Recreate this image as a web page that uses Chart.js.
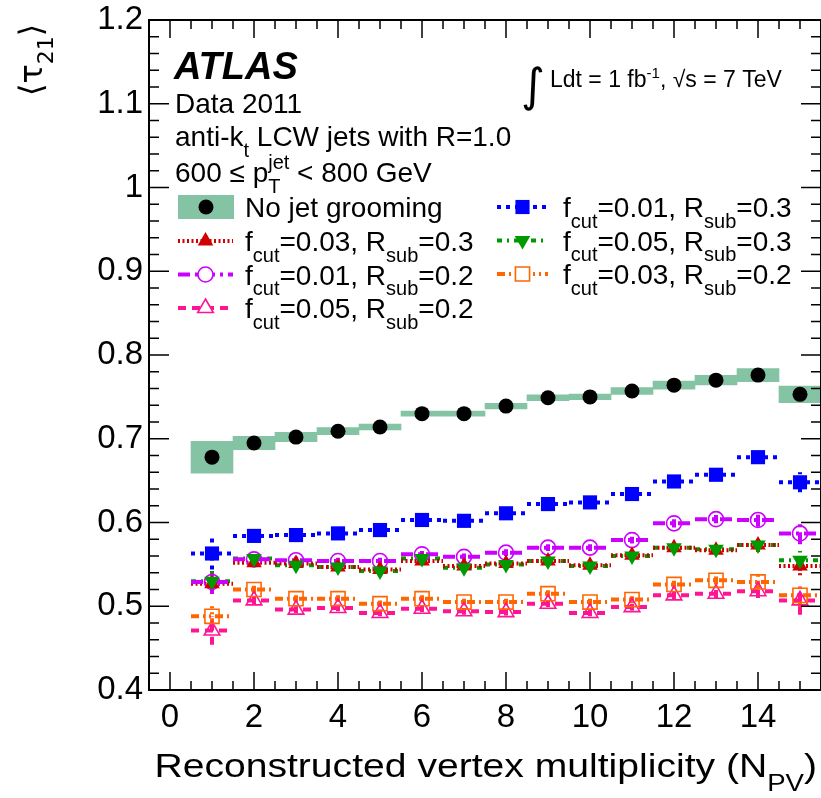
<!DOCTYPE html>
<html lang="en">
<head>
<meta charset="UTF-8">
<title>tau21 vs N_PV</title>
<script src="https://cdn.jsdelivr.net/npm/chart.js"></script>
<style>
  html, body { margin: 0; padding: 0; background: #fff; overflow: hidden; }
</style>
</head>
<body>
<canvas id="tauChart" width="821" height="798"></canvas>
<script>
// N_PV bins (bin width 1)
const npv = [1, 2, 3, 4, 5, 6, 7, 8, 9, 10, 11, 12, 13, 14, 15];

// no jet grooming + systematic band
const noGroom     = [0.678, 0.695, 0.702, 0.709, 0.714, 0.730, 0.730, 0.739, 0.749, 0.750, 0.757, 0.764, 0.770, 0.776, 0.753];
const noGroomSyst = [0.019, 0.008, 0.0056, 0.0042, 0.0036, 0.003, 0.003, 0.0034, 0.0034, 0.0034, 0.004, 0.0048, 0.0058, 0.0078, 0.010];

// trimmed jets
const f01r03 = [0.563, 0.584, 0.585, 0.587, 0.591, 0.603, 0.602, 0.611, 0.622, 0.624, 0.634, 0.649, 0.657, 0.678, 0.648];
const f01r03Err = [0.019, 0.005, 0.004, 0.004, 0.004, 0.004, 0.004, 0.004, 0.004, 0.004, 0.004, 0.005, 0.005, 0.008, 0.012];
const f01r02 = [0.529, 0.556, 0.555, 0.554, 0.554, 0.562, 0.559, 0.564, 0.570, 0.570, 0.579, 0.599, 0.604, 0.603, 0.587];
const f01r02Err = [0.014, 0.005, 0.004, 0.004, 0.004, 0.004, 0.004, 0.004, 0.004, 0.004, 0.004, 0.005, 0.005, 0.008, 0.013];
const f03r03 = [0.527, 0.552, 0.551, 0.547, 0.544, 0.554, 0.548, 0.551, 0.554, 0.549, 0.561, 0.570, 0.567, 0.573, 0.548];
const f03r03Err = [0.012, 0.005, 0.004, 0.004, 0.004, 0.004, 0.004, 0.004, 0.004, 0.004, 0.004, 0.005, 0.005, 0.008, 0.011];
const f05r03 = [0.530, 0.557, 0.549, 0.547, 0.542, 0.557, 0.546, 0.550, 0.554, 0.548, 0.560, 0.570, 0.568, 0.573, 0.555];
const f05r03Err = [0.012, 0.005, 0.004, 0.004, 0.004, 0.004, 0.004, 0.004, 0.004, 0.004, 0.004, 0.005, 0.005, 0.008, 0.011];
const f03r02 = [0.488, 0.520, 0.509, 0.509, 0.503, 0.509, 0.505, 0.505, 0.515, 0.505, 0.508, 0.526, 0.531, 0.529, 0.513];
const f03r02Err = [0.012, 0.005, 0.004, 0.004, 0.004, 0.004, 0.004, 0.004, 0.004, 0.004, 0.004, 0.005, 0.005, 0.008, 0.014];
const f05r02 = [0.471, 0.507, 0.496, 0.498, 0.492, 0.497, 0.494, 0.493, 0.503, 0.492, 0.499, 0.513, 0.515, 0.518, 0.507];
const f05r02Err = [0.017, 0.005, 0.004, 0.004, 0.004, 0.004, 0.004, 0.004, 0.004, 0.004, 0.004, 0.005, 0.005, 0.008, 0.017];

const FONT = '"Liberation Sans", Arial, Helvetica, sans-serif';

// styles for each trimmed series (drawing order: first = bottom)
const series = [
  { f: '0.05', r: '0.2', vals: f05r02, err: f05r02Err, color: '#FF1493', dash: [8, 6],          style: 'triangle', rot: 0,   rad: 9,  open: true },
  { f: '0.03', r: '0.2', vals: f03r02, err: f03r02Err, color: '#FF6600', dash: [8, 4, 2, 4, 2, 4], style: 'rect',   rot: 0,   rad: 10, open: true },
  { f: '0.01', r: '0.2', vals: f01r02, err: f01r02Err, color: '#CC00FF', dash: [12, 5, 3, 5],   style: 'circle',   rot: 0,   rad: 7.5, open: true },
  { f: '0.03', r: '0.3', vals: f03r03, err: f03r03Err, color: '#D00000', dash: [2, 2.5],        style: 'triangle', rot: 0,   rad: 9,  open: false },
  { f: '0.05', r: '0.3', vals: f05r03, err: f05r03Err, color: '#009900', dash: [5, 5, 2, 5],    style: 'triangle', rot: 180, rad: 9,  open: false },
  { f: '0.01', r: '0.3', vals: f01r03, err: f01r03Err, color: '#0000FF', dash: [4, 5],          style: 'rect',     rot: 0,   rad: 10, open: false }
];

function hSegments(vals) {
  const out = [];
  vals.forEach((v, i) => {
    out.push({ x: npv[i] - 0.5, y: v }, { x: npv[i] + 0.5, y: v }, { x: npv[i] + 0.5, y: null });
  });
  return out;
}
function vSegments(vals, errs) {
  const out = [];
  vals.forEach((v, i) => {
    out.push({ x: npv[i], y: v - errs[i] }, { x: npv[i], y: v + errs[i] }, { x: npv[i], y: null });
  });
  return out;
}
function points(vals) {
  return vals.map((v, i) => ({ x: npv[i], y: v }));
}

const datasets = [];
// systematic band for no grooming
datasets.push({
  type: 'bar',
  data: noGroom.map((v, i) => ({ x: npv[i], y: [v - noGroomSyst[i], v + noGroomSyst[i]] })),
  backgroundColor: '#85C3A5',
  borderWidth: 0,
  barThickness: 'flex',
  barPercentage: 1,
  categoryPercentage: 1,
  order: 40
});
series.forEach((s, k) => {
  const lineCfg = {
    type: 'line', borderColor: s.color, borderWidth: 4, borderDash: s.dash,
    pointRadius: 0, fill: false, spanGaps: false, tension: 0, order: 30
  };
  datasets.push(Object.assign({ data: hSegments(s.vals) }, lineCfg));
  datasets.push(Object.assign({ data: vSegments(s.vals, s.err) }, lineCfg));
  datasets.push({
    type: 'scatter', data: points(s.vals),
    pointStyle: s.style, rotation: s.rot, pointRadius: s.rad,
    backgroundColor: s.open ? 'rgba(0,0,0,0)' : s.color,
    borderColor: s.color, pointBorderWidth: s.open ? 1.6 : 0,
    order: 20 - k
  });
});
datasets.push({
  type: 'scatter', data: points(noGroom),
  pointStyle: 'circle', pointRadius: 7.5,
  backgroundColor: '#000', borderColor: '#000', pointBorderWidth: 0,
  order: 1
});

function isMajorY(v) { return Math.abs(v * 10 - Math.round(v * 10)) < 1e-6; }
function isMajorX(v) { return Math.abs(v / 2 - Math.round(v / 2)) < 1e-6; }

// rich text: strings, or {sub, sup} objects
function drawRich(ctx, x, y, parts, size, opts) {
  opts = opts || {};
  const fam = opts.family || FONT;
  const weight = opts.weight || '';
  const hs = opts.hScale || 1;
  const items = [];
  let w = 0;
  parts.forEach(p => {
    if (typeof p === 'string') {
      const font = `${weight} ${size}px ${fam}`;
      ctx.font = font;
      items.push({ t: p, x: w, dy: 0, font });
      w += ctx.measureText(p).width;
    } else {
      const fs = Math.round(size * (p.scale || 0.72));
      const font = `${fs}px ${fam}`;
      ctx.font = font;
      let pw = 0;
      if (p.sub) { items.push({ t: p.sub, x: w, dy: size * (p.subDy || 0.38), font }); pw = Math.max(pw, ctx.measureText(p.sub).width); }
      if (p.sup) { items.push({ t: p.sup, x: w, dy: -size * (p.supDy || 0.45), font }); pw = Math.max(pw, ctx.measureText(p.sup).width); }
      w += pw;
    }
  });
  const x0 = opts.align === 'right' ? x - w * hs : x;
  ctx.save();
  ctx.translate(x0, y);
  ctx.scale(hs, 1);
  ctx.textBaseline = 'alphabetic';
  ctx.textAlign = 'left';
  items.forEach(it => { ctx.font = it.font; ctx.fillText(it.t, it.x, it.dy); });
  ctx.restore();
  return w * hs;
}

function fcutLabel(f, r) {
  return ['f', { sub: 'cut' }, '=' + f + ', R', { sub: 'sub' }, '=' + r];
}

function legendSymbol(ctx, x1, x2, yc, s) {
  ctx.save();
  ctx.strokeStyle = s.color;
  ctx.lineWidth = 4;
  ctx.setLineDash(s.dash);
  ctx.beginPath();
  ctx.moveTo(x1, yc); ctx.lineTo(x2, yc);
  ctx.stroke();
  ctx.setLineDash([]);
  ctx.fillStyle = s.open ? '#fff' : s.color;
  ctx.lineWidth = s.open ? 1.6 : 0;
  Chart.helpers.drawPoint(ctx, { pointStyle: s.style, rotation: s.rot, radius: s.rad, borderWidth: s.open ? 1.6 : 0 }, (x1 + x2) / 2, yc);
  ctx.restore();
}

const atlasDecor = {
  id: 'atlasDecor',
  afterDraw(chart) {
    const ctx = chart.ctx, a = chart.chartArea;
    const xs = chart.scales.x, ys = chart.scales.y;
    ctx.save();
    // inner ticks on all four sides
    ctx.strokeStyle = '#000';
    ctx.lineWidth = 1.5;
    ctx.beginPath();
    ys.ticks.forEach(t => {
      const y = ys.getPixelForValue(t.value);
      const len = isMajorY(t.value) ? 20 : 10;
      ctx.moveTo(a.left, y); ctx.lineTo(a.left + len, y);
      ctx.moveTo(a.right, y); ctx.lineTo(a.right - len, y);
    });
    xs.ticks.forEach(t => {
      const x = xs.getPixelForValue(t.value);
      const len = isMajorX(t.value) ? 18 : 9;
      ctx.moveTo(x, a.bottom); ctx.lineTo(x, a.bottom - len);
      ctx.moveTo(x, a.top); ctx.lineTo(x, a.top + len);
    });
    ctx.stroke();
    ctx.lineWidth = 2;
    ctx.strokeRect(a.left, a.top, a.right - a.left, a.bottom - a.top);

    ctx.fillStyle = '#000';
    // axis titles
    drawRich(ctx, 817, 777, ['Reconstructed vertex multiplicity (N', { sub: 'PV', scale: 0.7, subDy: 0.42 }, ')'], 34, { align: 'right', hScale: 1.15 });
    ctx.save();
    ctx.translate(42, 96);
    ctx.rotate(-Math.PI / 2);
    drawRich(ctx, 0, 0, ['\u27E8\u03C4', { sub: '21', scale: 0.7, subDy: 0.35 }, '\u27E9'], 32, { family: '"DejaVu Sans", ' + FONT });
    ctx.restore();

    // labels
    drawRich(ctx, 174, 79, ['ATLAS'], 38, { weight: 'italic bold' });
    drawRich(ctx, 175, 113, ['Data 2011'], 28);
    drawRich(ctx, 175, 146, ['anti-k', { sub: 't' }, ' LCW jets with R=1.0'], 28);
    drawRich(ctx, 175, 182, ['600 \u2264 p', { sub: 'T', sup: 'jet' }, ' < 800 GeV'], 28);
    ctx.font = `46px "DejaVu Sans", ${FONT}`;
    ctx.fillText('\u222B', 521, 101);
    drawRich(ctx, 550, 87, ['Ldt = 1 fb', { sup: '-1', scale: 0.65, supDy: 0.4 }, ', \u221As = 7 TeV'], 23);

    // legend
    ctx.fillStyle = '#85C3A5';
    ctx.fillRect(178, 195, 56, 24);
    ctx.fillStyle = '#000';
    ctx.beginPath();
    ctx.arc(206, 207, 7.5, 0, Math.PI * 2);
    ctx.fill();
    drawRich(ctx, 245, 217, ['No jet grooming'], 28);

    const leftRows = [series[3], series[2], series[0]];
    leftRows.forEach((s, i) => {
      const yc = 241 + i * 33.5;
      legendSymbol(ctx, 178, 233, yc, s);
      ctx.fillStyle = '#000';
      drawRich(ctx, 245, yc + 10, fcutLabel(s.f, s.r), 28);
    });
    const rightRows = [series[5], series[4], series[1]];
    rightRows.forEach((s, i) => {
      const yc = 207 + i * 33.5;
      legendSymbol(ctx, 497, 548, yc, s);
      ctx.fillStyle = '#000';
      drawRich(ctx, 563, yc + 10, fcutLabel(s.f, s.r), 28);
    });
    ctx.restore();
  }
};

function noPad(s) {
  s.paddingLeft = 0; s.paddingRight = 0; s.paddingTop = 0; s.paddingBottom = 0;
}

new Chart(document.getElementById('tauChart').getContext('2d'), {
  type: 'scatter',
  data: { datasets: datasets },
  options: {
    responsive: false,
    animation: false,
    layout: { autoPadding: false, padding: { top: 20, right: 0, left: 0, bottom: 0 } },
    plugins: { legend: { display: false }, tooltip: { enabled: false } },
    scales: {
      x: {
        type: 'linear', min: -0.5, max: 15.5, offset: false,
        grid: { display: false, drawTicks: false },
        border: { display: false },
        ticks: {
          stepSize: 0.5, autoSkip: false, maxRotation: 0, padding: 8,
          color: '#000', font: { family: FONT, size: 33 },
          callback: v => (v >= 0 && isMajorX(v)) ? String(v) : ''
        },
        afterFit: s => { s.height = 108; noPad(s); }
      },
      y: {
        type: 'linear', min: 0.4, max: 1.2,
        grid: { display: false, drawTicks: false },
        border: { display: false },
        ticks: {
          stepSize: 0.02, autoSkip: false, padding: 6,
          color: '#000', font: { family: FONT, size: 33 },
          callback: v => isMajorY(v) ? String(Number(v.toFixed(2))) : ''
        },
        afterFit: s => { s.width = 149; noPad(s); }
      }
    }
  },
  plugins: [atlasDecor]
});
</script>
</body>
</html>
